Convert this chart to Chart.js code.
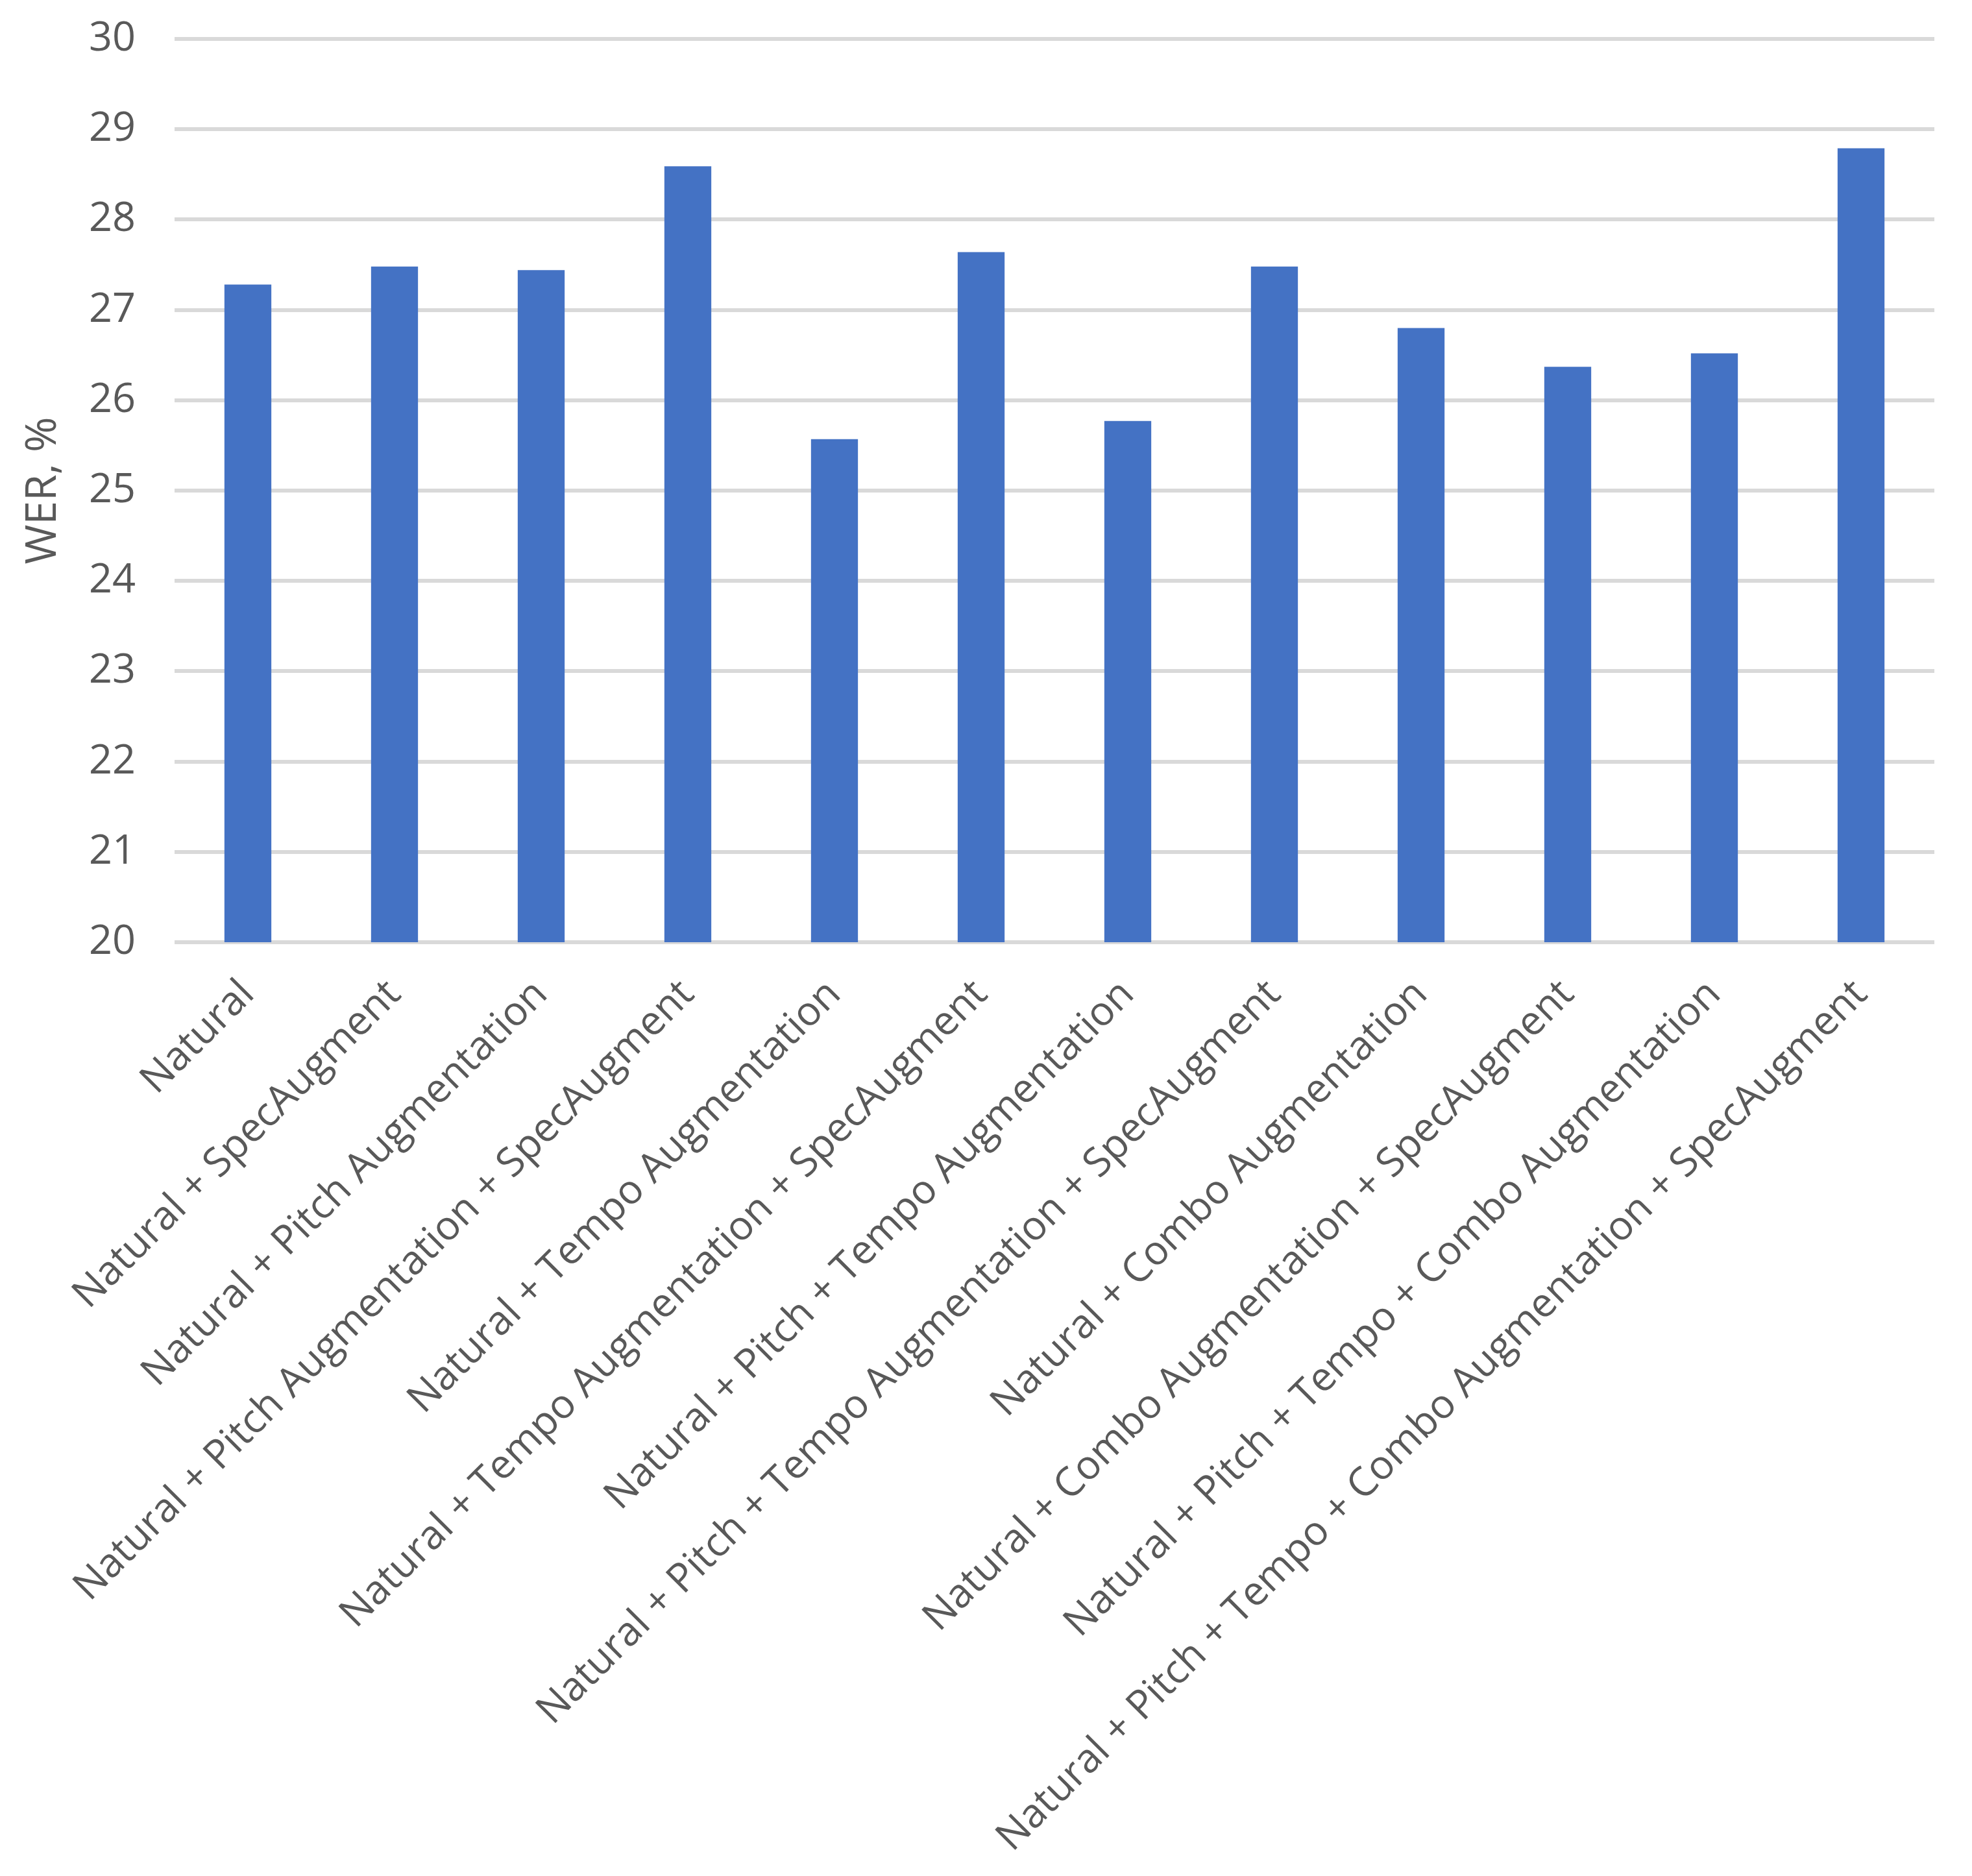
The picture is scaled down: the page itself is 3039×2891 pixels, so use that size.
<!DOCTYPE html>
<html>
<head>
<meta charset="utf-8">
<script src="https://cdn.jsdelivr.net/npm/chart.js@4/dist/chart.umd.min.js"></script>
<style>
  html, body { margin: 0; padding: 0; background: #fff; }
  #chart { display: block; }
</style>
</head>
<body>
<canvas id="chart" width="3039" height="2891"></canvas>
<script>
// Categories (training data configuration)
const categories = [
  'Natural',
  'Natural + SpecAugment',
  'Natural + Pitch Augmentation',
  'Natural + Pitch Augmentation + SpecAugment',
  'Natural + Tempo Augmentation',
  'Natural + Tempo Augmentation + SpecAugment',
  'Natural + Pitch + Tempo Augmentation',
  'Natural + Pitch + Tempo Augmentation + SpecAugment',
  'Natural + Combo Augmentation',
  'Natural + Combo Augmentation + SpecAugment',
  'Natural + Pitch + Tempo + Combo Augmentation',
  'Natural + Pitch + Tempo + Combo Augmentation + SpecAugment'
];

// WER values, %
const werValues = [27.28, 27.48, 27.44, 28.59, 25.57, 27.64, 25.77, 27.48, 26.80, 26.37, 26.52, 28.79];

// Y axis range
const yMin = 20;
const yMax = 30;
const yStep = 1;

const textColor = '#595959';
const fontFamily = '"Open Sans", "Liberation Sans", sans-serif';

const ctx = document.getElementById('chart');

new Chart(ctx, {
  type: 'bar',
  data: {
    labels: categories,
    datasets: [{
      data: werValues,
      backgroundColor: '#4472C4',
      categoryPercentage: 1,
      barPercentage: 0.32
    }]
  },
  options: {
    responsive: false,
    animation: false,
    layout: { padding: { left: 0, right: 58, top: 60, bottom: 0 } },
    plugins: {
      legend: { display: false },
      tooltip: { enabled: false }
    },
    scales: {
      x: {
        grid: { display: false },
        border: { display: false },
        ticks: {
          color: textColor,
          font: { family: fontFamily, size: 62 },
          minRotation: 45,
          maxRotation: 45,
          autoSkip: false,
          padding: 36
        },
        // fixed axis height so the plot bottom lands where the reference has it
        afterFit: (scale) => {
          scale.height = 2891 - 1452;
          scale.paddingLeft = 0;
          scale.paddingRight = 0;
          scale.paddingTop = 0;
          scale.paddingBottom = 0;
        }
      },
      y: {
        min: yMin,
        max: yMax,
        ticks: {
          stepSize: yStep,
          color: textColor,
          font: { family: fontFamily, size: 63 },
          padding: 60
        },
        grid: { color: '#d9d9d9', lineWidth: 6, drawTicks: false },
        border: { display: false },
        title: {
          display: true,
          text: 'WER, %',
          color: textColor,
          font: { family: fontFamily, size: 66 },
          padding: { top: 28, bottom: 0 }
        },
        afterFit: (scale) => {
          scale.width = 269;
          scale.paddingTop = 0;
          scale.paddingBottom = 0;
        }
      }
    }
  }
});
</script>
</body>
</html>
